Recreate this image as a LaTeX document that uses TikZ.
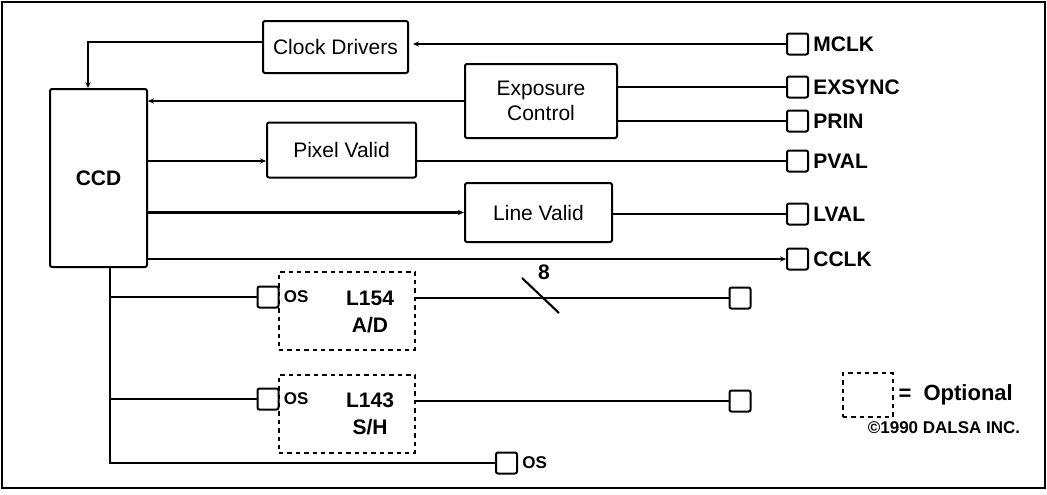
\documentclass[tikz,border=0pt]{standalone}
\usepackage{fontspec}
\setmainfont{Liberation Sans}
\usetikzlibrary{arrows.meta,positioning,calc}

\begin{document}
\begin{tikzpicture}[x=0.5pt, y=-0.5pt,
  box/.style={draw, line width=1pt, rounded corners=1pt, align=center, inner sep=0pt, font=\fontsize{10.5}{12.5}\selectfont},
  opt/.style={draw, line width=1.1pt, dash pattern=on 2.2pt off 2pt, inner sep=0pt},
  pin/.style={draw, line width=1pt, rounded corners=1pt, minimum size=10.5pt, inner sep=0pt},
  lbl/.style={font=\bfseries\fontsize{10.5}{13.5}\selectfont, inner sep=1pt, align=center},
  small/.style={font=\bfseries\fontsize{8.5}{10}\selectfont, inner sep=1pt},
  arr/.style={-{Stealth[length=3pt, width=2.6pt]}, line width=1.05pt},
  ln/.style={line width=1.05pt}]
\useasboundingbox (0,0) rectangle (1047,494);
\draw[line width=1.3pt] (2,2) rectangle (1045,488);
% main blocks
\node[box, minimum width=48.5pt, minimum height=89pt, font=\bfseries\fontsize{10.5}{12}\selectfont] (ccd) at (98.5,178) {CCD};
\node[box, minimum width=72.5pt, minimum height=26pt] (clk) at (335.5,47) {Clock Drivers};
\node[box, minimum width=76pt, minimum height=37pt] (exp) at (541,101) {Exposure\\Control};
\node[box, minimum width=74.5pt, minimum height=27.5pt] (pix) at (341.5,150) {Pixel Valid};
\node[box, minimum width=73.5pt, minimum height=29.5pt] (lin) at (538.5,212.5) {Line Valid};
% output pins
\foreach \name/\y/\txt in {mclk/44/MCLK, exsync/87/EXSYNC, prin/121/PRIN, pval/161/PVAL, lval/214/LVAL, cclk/259/CCLK} {
  \node[pin] (\name) at (797.5,\y) {};
  \node[lbl, right=1pt of \name] (\name-t) {\txt};
}
\draw[arr, shorten >=2pt] (mclk.west) -- (clk.east |- mclk.west);
\draw[arr] ([yshift=2.5pt]clk.west) -| ([xshift=-5.25pt]ccd.north);
\draw[arr] (exp.west) -- (ccd.east |- exp.west);
\draw[ln] (exp.east |- exsync) -- (exsync.west);
\draw[ln] (exp.east |- prin) -- (prin.west);
\draw[arr] (ccd.east |- pval) -- (pix.west |- pval);
\draw[ln] (pix.east |- pval) -- (pval.west);
\draw[arr] (ccd.east |- lin.west) -- (lin.west);
\draw[ln] (lin.east |- lval) -- (lval.west);
\draw[arr] (ccd.east |- cclk) -- (cclk.west);
% optional chain
\node[pin] (os1) at (268,297) {};
\node[pin] (os2) at (268,399) {};
\node[pin] (os3) at (506.5,463) {};
\node[small, right=1pt of os1] (os1-t) {OS};
\node[small, right=1pt of os2] (os2-t) {OS};
\node[small, right=1pt of os3] (os3-t) {OS};
\node[opt, minimum width=68pt, minimum height=39pt] (adc) at (347,311) {};
\node[opt, minimum width=68pt, minimum height=39pt] (sh) at (347,414) {};
\node[lbl] (adc-t) at (370,311.5) {L154\\A/D};
\node[lbl] (sh-t) at (370,413.5) {L143\\S/H};
\node[pin] (adout) at (740,298) {};
\node[pin] (shout) at (740,401) {};
\draw[ln] (adc.east |- adout) -- (adout.west);
\draw[ln] (sh.east |- shout) -- (shout.west);
\draw[ln] (522,278) -- (559,313);
\node[lbl] (bus) at (544,272) {8};
\coordinate (trunk) at ([xshift=5.75pt]ccd.south);
\draw[ln] (trunk) |- (os3.west);
\draw[ln] (trunk |- os1) -- (os1.west);
\draw[ln] (trunk |- os2) -- (os2.west);
% key
\node[opt, minimum width=25pt, minimum height=22pt] (key) at (868,395) {};
\node[lbl, font=\bfseries\fontsize{11}{13}\selectfont, right=1pt of key] (key-t) {=\ \ Optional};
\node[small] (copy) at (944,428) {\textcopyright 1990 DALSA INC.};
\end{tikzpicture}
\end{document}
